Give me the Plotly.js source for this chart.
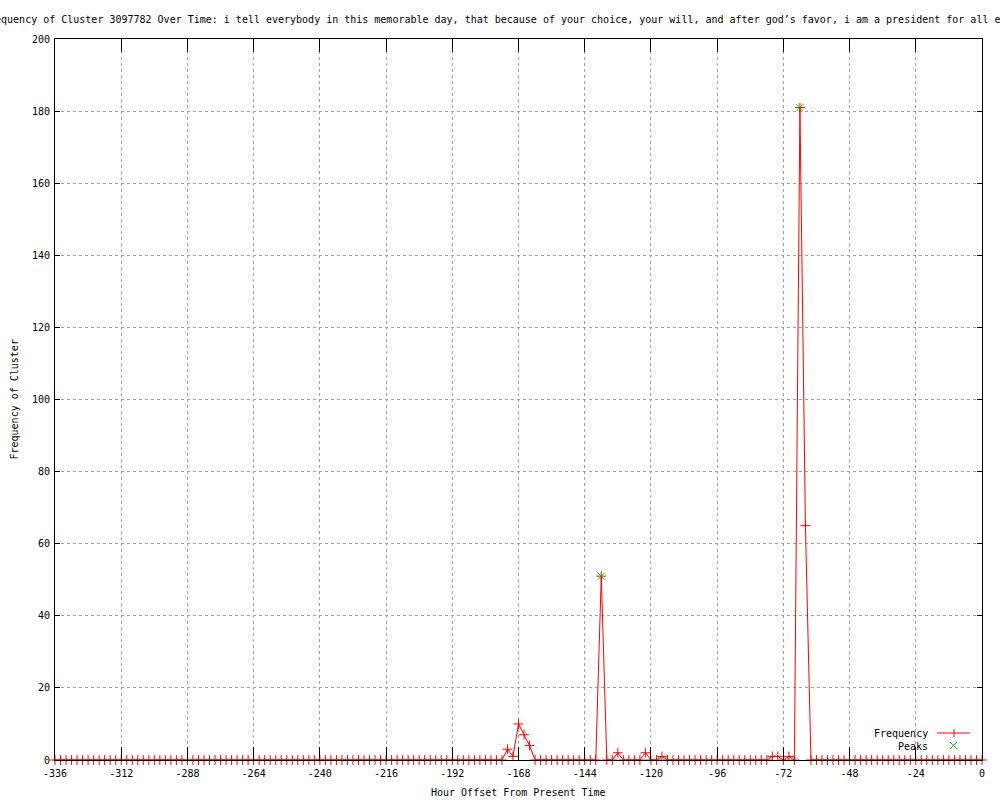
<!DOCTYPE html>
<html>
<head>
<meta charset="utf-8">
<script src="https://cdn.plot.ly/plotly-3.0.1.min.js"></script>
<style>html,body{margin:0;padding:0;background:#fff;}#chart{width:1000px;height:800px;}</style>
</head>
<body>
<div id="chart"></div>
<script>
// Hour offsets: every 2 hours from -336 to 0
const hours = [];
for (let h = -336; h <= 0; h += 2) hours.push(h);

// Frequency per 2-hour step (rows of 12 values = 24 hours each, starting at -336)
const frequency = [
  0,0,0,0,0,0,0,0,0,0,0,0,      // -336
  0,0,0,0,0,0,0,0,0,0,0,0,      // -312
  0,0,0,0,0,0,0,0,0,0,0,0,      // -288
  0,0,0,0,0,0,0,0,0,0,0,0,      // -264
  0,0,0,0,0,0,0,0,0,0,0,0,      // -240
  0,0,0,0,0,0,0,0,0,0,0,0,      // -216
  0,0,0,0,0,0,0,0,0,0,3,1,      // -192
  10,7,4,0,0,0,0,0,0,0,0,0,     // -168
  0,0,0,51,0,0,2,0,0,0,0,2,     // -144
  0,0,1,0,0,0,0,0,0,0,0,0,      // -120
  0,0,0,0,0,0,0,0,0,0,1,1,      // -96
  0,1,0,181,65,0,0,0,0,0,0,0,   // -72
  0,0,0,0,0,0,0,0,0,0,0,0,      // -48
  0,0,0,0,0,0,0,0,0,0,0,0,      // -24
  0                             // 0
];

const peakHours = [-138, -66];
const peakValues = [51, 181];

const xTickVals = [-336,-312,-288,-264,-240,-216,-192,-168,-144,-120,-96,-72,-48,-24,0];
const xTickText = ["-336","-312","-288","-264","-240","-216","-192","-168","-144","-120","-96","-72","-48","-24","0"];
const yTickVals = [0,20,40,60,80,100,120,140,160,180,200];
const yTickText = ["0","20","40","60","80","100","120","140","160","180","200"];

const titleText = "Frequency of Cluster 3097782 Over Time: i tell everybody in this memorable day, that because of your choice, your will, and after god\u2019s favor, i am a president for all egyptians";

const FONT = "DejaVu Sans Mono, Liberation Mono, monospace";
const L = 55, R = 982, T = 39, B = 760;
const px = x => (x - L) / (R - L);
const py = y => (B - y) / (B - T);

const traces = [
  {
    x: hours, y: frequency, type: 'scatter', mode: 'lines+markers', name: 'Frequency',
    line: {color: '#ff0000', width: 1},
    marker: {symbol: 'cross-thin-open', size: 7, color: '#ff0000', line: {color: '#ff0000', width: 1}},
    cliponaxis: false, hoverinfo: 'x+y'
  },
  {
    x: peakHours, y: peakValues, type: 'scatter', mode: 'markers', name: 'Peaks',
    marker: {symbol: 'x-thin-open', size: 7, color: '#00c000', line: {color: '#00c000', width: 1}},
    cliponaxis: false
  }
];

const axisCommon = {
  ticks: 'inside', tickcolor: '#000', tickwidth: 1,
  showline: true, linecolor: '#000', linewidth: 1, mirror: 'ticks',
  showgrid: true, gridcolor: '#a0a0a0', griddash: 'dot', gridwidth: 1,
  zeroline: false, tickfont: {family: FONT, size: 10, color: '#000'},
  fixedrange: true
};

const layout = {
  width: 1000, height: 800,
  margin: {l: L, r: 1000 - R, t: T, b: 800 - B, pad: 0},
  paper_bgcolor: '#fff', plot_bgcolor: '#fff',
  showlegend: false,
  font: {family: FONT, size: 10, color: '#000'},
  xaxis: Object.assign({}, axisCommon, {
    range: [-336, 0], tickmode: 'array', tickvals: xTickVals, ticktext: xTickText, ticklen: 13,
    ticklabelstandoff: 4
  }),
  yaxis: Object.assign({}, axisCommon, {
    range: [0, 200], tickmode: 'array', tickvals: yTickVals, ticktext: yTickText, ticklen: 5,
    ticklabelstandoff: 2
  }),
  annotations: [
    {text: titleText, xref: 'paper', yref: 'paper', x: px(-19), y: py(19), xanchor: 'left', yanchor: 'middle',
     showarrow: false, font: {family: FONT, size: 10, color: '#000'}},
    {text: 'Frequency of Cluster', xref: 'paper', yref: 'paper', x: px(14), y: 0.5, textangle: -90,
     xanchor: 'center', yanchor: 'middle', showarrow: false, font: {family: FONT, size: 10, color: '#000'}},
    {text: 'Hour Offset From Present Time', xref: 'paper', yref: 'paper', x: 0.5, y: py(792),
     xanchor: 'center', yanchor: 'middle', showarrow: false, font: {family: FONT, size: 10, color: '#000'}},
    {text: 'Frequency', xref: 'paper', yref: 'paper', x: px(930), y: py(733), xanchor: 'right', yanchor: 'middle',
     showarrow: false, font: {family: FONT, size: 10, color: '#000'}},
    {text: 'Peaks', xref: 'paper', yref: 'paper', x: px(930), y: py(746), xanchor: 'right', yanchor: 'middle',
     showarrow: false, font: {family: FONT, size: 10, color: '#000'}}
  ],
  shapes: [
    {type: 'line', xref: 'paper', yref: 'paper', x0: px(937), x1: px(970), y0: py(733), y1: py(733), line: {color: '#ff0000', width: 1}},
    {type: 'line', xref: 'paper', yref: 'paper', x0: px(954), x1: px(954), y0: py(729), y1: py(737), line: {color: '#ff0000', width: 1}},
    {type: 'line', xref: 'paper', yref: 'paper', x0: px(950), x1: px(957), y0: py(742), y1: py(749), line: {color: '#00c000', width: 1}},
    {type: 'line', xref: 'paper', yref: 'paper', x0: px(950), x1: px(957), y0: py(749), y1: py(742), line: {color: '#00c000', width: 1}}
  ]
};

Plotly.newPlot('chart', traces, layout, {displayModeBar: false, staticPlot: true});
</script>
</body>
</html>
